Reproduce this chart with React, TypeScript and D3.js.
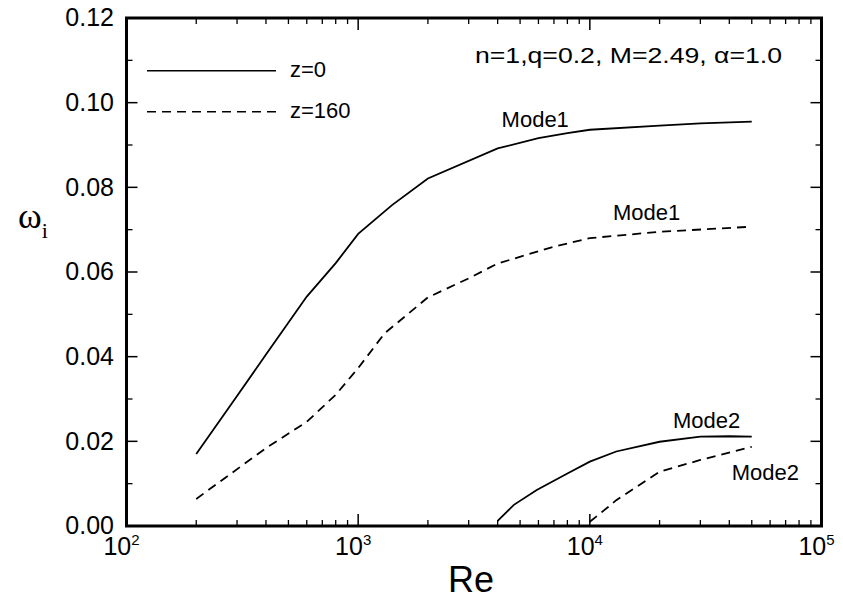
import React from "react";
import * as d3 from "d3";

const mode1Z0Re = [200, 300, 400, 600, 800, 1000, 1400, 2000, 4000, 6000, 8000, 10000, 20000, 30000, 50000];
const mode1Z0W = [0.017, 0.0307, 0.0405, 0.0542, 0.0621, 0.069, 0.0758, 0.0821, 0.0892, 0.0916, 0.0928, 0.0936, 0.0946, 0.0951, 0.0955];

const mode1Z160Re = [200, 400, 600, 800, 1000, 1300, 2000, 3000, 4000, 7000, 10000, 20000, 50000];
const mode1Z160W = [0.0064, 0.0184, 0.0246, 0.031, 0.0373, 0.0455, 0.054, 0.0585, 0.062, 0.066, 0.068, 0.0695, 0.0707];

const mode2Z0Re = [4000, 4700, 5900, 8000, 10000, 13000, 20000, 30000, 40000, 50000];
const mode2Z0W = [0.0012, 0.005, 0.0085, 0.0124, 0.0152, 0.0176, 0.0199, 0.0211, 0.0212, 0.0211];

const mode2Z160Re = [10000, 12000, 13000, 20000, 30000, 50000];
const mode2Z160W = [0.001, 0.0045, 0.0061, 0.0128, 0.0156, 0.0187];

const yTicks = [0, 0.02, 0.04, 0.06, 0.08, 0.1, 0.12];
const yTickLabels = ["0.00", "0.02", "0.04", "0.06", "0.08", "0.10", "0.12"];
const xDecades = [2, 3, 4, 5];

const curveLabels = [
  { text: "Mode1", re: 4160, w: 0.0943 },
  { text: "Mode1", re: 12580, w: 0.0723 },
  { text: "Mode2", re: 22860, w: 0.02315 },
  { text: "Mode2", re: 41000, w: 0.01087 },
];

const legendItems = [
  { label: "z=0", dash: null as string | null },
  { label: "z=160", dash: "9,6" },
];

const annotation = "n=1,q=0.2, M=2.49, \u03b1=1.0";

export default function App() {
  const W = 843, H = 600;
  const left = 126.5, right = 821.5, top = 18, bottom = 526;
  const x = d3.scaleLog().domain([100, 100000]).range([left, right]);
  const y = d3.scaleLinear().domain([0, 0.12]).range([bottom, top]);
  const line = d3
    .line<[number, number]>()
    .x((d) => x(d[0]))
    .y((d) => y(d[1]))
    .curve(d3.curveLinear);

  const series = [
    { re: mode1Z0Re, w: mode1Z0W, dash: null as string | null },
    { re: mode1Z160Re, w: mode1Z160W, dash: "9,6" },
    { re: mode2Z0Re, w: mode2Z0W, dash: null },
    { re: mode2Z160Re, w: mode2Z160W, dash: "9,6" },
  ];

  const minorX: number[] = [];
  for (let e = 2; e < 5; e++) for (let m = 2; m <= 9; m++) minorX.push(m * Math.pow(10, e));
  const minorY = d3.range(0.01, 0.12, 0.02);

  const font = "'Liberation Sans', Arial, Helvetica, sans-serif";

  return (
    <svg width={W} height={H} style={{ position: "absolute", left: 0, top: 0, background: "#fff" }} fontFamily={font}>
      <rect x={0} y={0} width={W} height={H} fill="#fff" />
      {series.map((s, i) => (
        <path
          key={i}
          d={line(s.re.map((r, j) => [r, s.w[j]] as [number, number])) || ""}
          fill="none"
          stroke="#000"
          strokeWidth={1.8}
          strokeDasharray={s.dash || undefined}
        />
      ))}
      {yTicks.map((t) => (
        <g key={"yt" + t}>
          <line x1={left} x2={left + 11} y1={y(t)} y2={y(t)} stroke="#000" strokeWidth={1.5} />
          <line x1={right} x2={right - 11} y1={y(t)} y2={y(t)} stroke="#000" strokeWidth={1.5} />
        </g>
      ))}
      {minorY.map((t) => (
        <g key={"ym" + t}>
          <line x1={left} x2={left + 6} y1={y(t)} y2={y(t)} stroke="#000" strokeWidth={1.3} />
          <line x1={right} x2={right - 6} y1={y(t)} y2={y(t)} stroke="#000" strokeWidth={1.3} />
        </g>
      ))}
      {xDecades.map((e) => (
        <g key={"xt" + e}>
          <line x1={x(Math.pow(10, e))} x2={x(Math.pow(10, e))} y1={bottom} y2={bottom - 12} stroke="#000" strokeWidth={1.5} />
          <line x1={x(Math.pow(10, e))} x2={x(Math.pow(10, e))} y1={top} y2={top + 12} stroke="#000" strokeWidth={1.5} />
        </g>
      ))}
      {minorX.map((v) => (
        <g key={"xm" + v}>
          <line x1={x(v)} x2={x(v)} y1={bottom} y2={bottom - 6} stroke="#000" strokeWidth={1.3} />
          <line x1={x(v)} x2={x(v)} y1={top} y2={top + 6} stroke="#000" strokeWidth={1.3} />
        </g>
      ))}
      <rect x={left} y={top} width={right - left} height={bottom - top} fill="none" stroke="#000" strokeWidth={3} />
      {yTicks.map((t, i) => (
        <text key={"yl" + t} x={114} y={y(t) + 8.2} textAnchor="end" fontSize={25}>
          {yTickLabels[i]}
        </text>
      ))}
      {xDecades.map((e) => (
        <text key={"xl" + e} x={x(Math.pow(10, e)) - 5} y={555} textAnchor="middle" fontSize={25}>
          10
          <tspan dy={-10} fontSize={15}>
            {e}
          </tspan>
        </text>
      ))}
      <text x={471} y={592} textAnchor="middle" fontSize={36}>
        Re
      </text>
      <text x={18} y={228} fontSize={36} fontFamily="'Liberation Serif', 'DejaVu Serif', serif">
        {"\u03c9"}
        <tspan dy={10} fontSize={22}>i</tspan>
      </text>
      {legendItems.map((it, i) => (
        <g key={"lg" + i}>
          <line x1={147} x2={276} y1={70.7 + i * 41} y2={70.7 + i * 41} stroke="#000" strokeWidth={1.6} strokeDasharray={it.dash || undefined} />
          <text x={290} y={77 + i * 41} fontSize={22}>
            {it.label}
          </text>
        </g>
      ))}
      <text x={475} y={63} fontSize={22} textLength={307} lengthAdjust="spacingAndGlyphs">
        {annotation}
      </text>
      {curveLabels.map((c, i) => (
        <text key={"cl" + i} x={x(c.re)} y={y(c.w)} fontSize={22}>
          {c.text}
        </text>
      ))}
    </svg>
  );
}
